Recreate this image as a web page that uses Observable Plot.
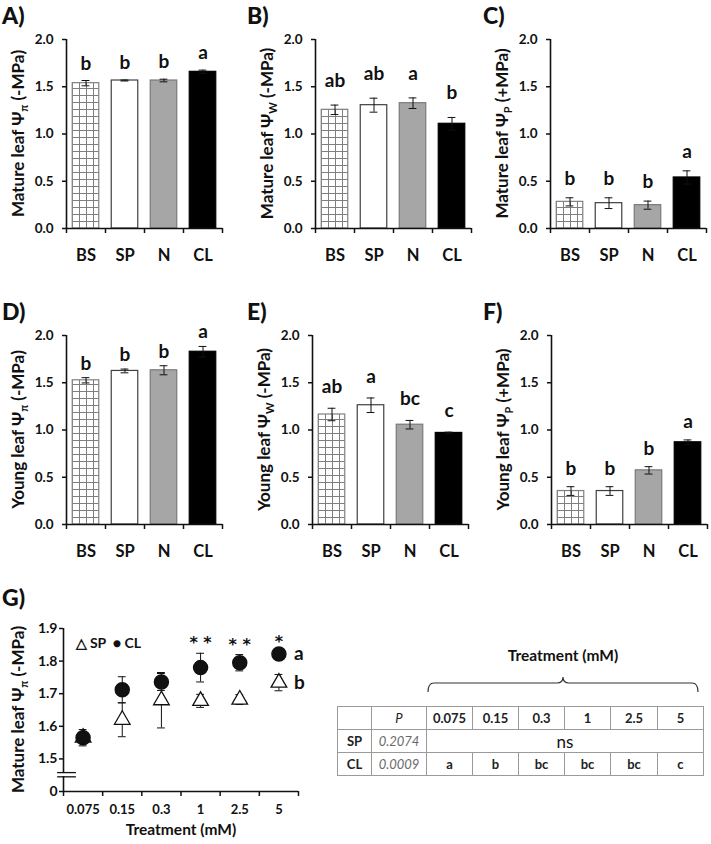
<!DOCTYPE html>
<html><head><meta charset="utf-8">
<script src="https://cdn.jsdelivr.net/npm/d3@7"></script>
<script src="https://cdn.jsdelivr.net/npm/@observablehq/plot@0.6"></script>
<style>
body{margin:0;background:#fff;}
#fig{position:relative;width:711px;height:844px;overflow:hidden;font-family:Lato,"Open Sans",sans-serif;color:#111;background:#fff;}
.plab{position:absolute;font-weight:900;font-size:23px;line-height:1;}
.pn{position:absolute;}
#tbl{position:absolute;left:337px;top:706px;border-collapse:collapse;table-layout:fixed;width:366px;font-size:13px;}
#tbl td{border:1px solid #9a9a9a;height:22px;padding:0;text-align:center;font-weight:bold;color:#222;}
#tbl td.it{font-style:italic;font-weight:normal;color:#6a6a6a;}
#tbl td.ns{font-weight:normal;font-size:17px;color:#111;}
</style></head><body><div id="fig"></div><script>
// ---------- data: panels A–F ----------
const categories = ["BS","SP","N","CL"];
const matureOsmotic = [1.538,1.566,1.566,1.658];
const matureOsmoticSE = [0.028,0.005,0.014,0.018];
const matureOsmoticLetters = ["b","b","b","a"];
const matureWater = [1.256,1.305,1.326,1.108];
const matureWaterSE = [0.05,0.074,0.056,0.067];
const matureWaterLetters = ["ab","ab","a","b"];
const matureTurgor = [0.282,0.268,0.247,0.54];
const matureTurgorSE = [0.043,0.057,0.043,0.07];
const matureTurgorLetters = ["b","b","b","a"];
const youngOsmotic = [1.526,1.625,1.632,1.828];
const youngOsmoticSE = [0.028,0.02,0.048,0.056];
const youngOsmoticLetters = ["b","b","b","a"];
const youngWater = [1.164,1.262,1.056,0.969];
const youngWaterSE = [0.066,0.077,0.045,0.008];
const youngWaterLetters = ["ab","a","bc","c"];
const youngTurgor = [0.354,0.354,0.573,0.87];
const youngTurgorSE = [0.046,0.046,0.039,0.025];
const youngTurgorLetters = ["b","b","b","a"];
const barTicks = [0,0.5,1,1.5,2];

// ---------- data: panel G ----------
const treatments = ["0.075","0.15","0.3","1","2.5","5"];
const spOsmotic = [1.565,1.62,1.68,1.678,1.682,1.734];
const spOsmoticSE = [0.01,0.052,0.085,0.02,0.015,0.025];
const clOsmotic = [1.565,1.712,1.736,1.78,1.795,1.822];
const clOsmoticSE = [0.025,0.04,0.026,0.044,0.025,0.005];
const significance = ["","","","**","**","*"];
const seriesNames = ["SP","CL"];
const seriesLetters = ["b","a"];
const gTicks = [1.4,1.5,1.6,1.7,1.8,1.9];
const gTickLabels = ["0","1.5","1.6","1.7","1.8","1.9"];

// ---------- data: table ----------
const tableHeader = ["", "P", ...treatments];
const tableSP = ["SP","0.2074","ns"];
const tableCL = ["CL","0.0009","a","b","bc","bc","bc","c"];

const fig = d3.select("#fig");
const ink = "#111";

function yLabel(svg, yc, text, sub, unit) {
  const t = svg.append("text")
    .attr("transform", `translate(24,${yc}) rotate(-90)`)
    .attr("text-anchor", "middle")
    .attr("fill", ink)
    .style("font-size", "17px").style("font-weight", "bold");
  t.append("tspan").text(text + " Ψ");
  t.append("tspan").attr("dy", 4).style("font-size", "11px").text(sub);
  t.append("tspan").attr("dy", -4).text(" " + unit);
}

function barPanel(o) {
  const data = categories.map((c, i) => ({c, i, v: o.values[i], e: o.se[i], l: o.letters[i]}));
  const pid = "grid-" + o.id;
  const fills = [`url(#${pid})`, "white", "#a6a6a6", "black"];
  const strokes = ["#808080", "#404040", "#7a7a7a", "black"];
  const p = Plot.plot({
    width: o.width, height: 265, marginLeft: 66, marginRight: o.width - 66 - 156, marginTop: 39, marginBottom: 37,
    x: {domain: [0, 4]}, y: {domain: [0, 2]}, color: {type: "identity"},
    style: {fontFamily: "Lato, 'Open Sans', sans-serif", fontWeight: "bold", fontSize: "13px", color: ink, background: "transparent", overflow: "visible"},
    marks: [
      Plot.rect(data, {x1: d => d.i + 0.16, x2: d => d.i + 0.84, y1: 0, y2: "v", fill: d => fills[d.i], stroke: d => strokes[d.i], strokeWidth: 1.2}),
      Plot.ruleX(data, {x: d => d.i + 0.5, y1: d => d.v - d.e, y2: d => d.v + d.e, stroke: ink, strokeWidth: 1}),
      Plot.ruleY(data, {x1: d => d.i + 0.4, x2: d => d.i + 0.6, y: d => d.v + d.e, stroke: ink, strokeWidth: 1}),
      Plot.ruleY(data, {x1: d => d.i + 0.4, x2: d => d.i + 0.6, y: d => d.v - d.e, stroke: ink, strokeWidth: 1}),
      Plot.text(data, {x: d => d.i + 0.5, y: d => d.v + d.e, text: "l", dy: -o.gap, lineAnchor: "bottom", fontSize: 19, fontWeight: "bold", fill: ink}),
      Plot.ruleY([0], {stroke: ink, strokeWidth: 1.6}),
      Plot.ruleX([0], {y1: 0, y2: 2, stroke: ink, strokeWidth: 1.6}),
      Plot.axisY({ticks: barTicks, tickFormat: d3.format(".1f"), tickSize: 4, tickPadding: 9, label: null, strokeWidth: 1.5, fontSize: 13.5}),
      Plot.axisX({ticks: categories.map((_, i) => i + 0.5), tickFormat: v => categories[Math.round(v - 0.5)], tickSize: 0, tickPadding: 21, fontSize: 16.5, label: null}),
      Plot.axisX({ticks: d3.range(categories.length + 1), tickFormat: () => "", tickSize: 5, label: null, strokeWidth: 1.5})
    ]
  });
  const svg = d3.select(p);
  const x0 = Math.round(p.scale("x").apply(0.16)), y0 = Math.round(p.scale("y").apply(0));
  svg.insert("defs", ":first-child").html(
    `<pattern id="${pid}" patternUnits="userSpaceOnUse" x="${x0}" y="${y0}" width="7" height="7">` +
    `<rect width="7" height="7" fill="white"/>` +
    `<path d="M0 0.5H7M0.5 0V7" stroke="#7f7f7f" stroke-width="1" fill="none" shape-rendering="crispEdges"/></pattern>`);
  yLabel(svg, p.scale("y").apply(1), o.text, o.sub, o.unit);
  const holder = fig.append("div").attr("class", "pn").style("left", o.left + "px").style("top", o.top + "px");
  holder.node().appendChild(p);
  fig.append("div").attr("class", "plab").style("left", o.labelLeft + "px").style("top", (o.top + 4) + "px").text(o.id + ")");
}

barPanel({id: "A", left: 0, labelLeft: 2, top: 0, width: 228, values: matureOsmotic, se: matureOsmoticSE, letters: matureOsmoticLetters, gap: 11, text: "Mature leaf", sub: "π", unit: "(-MPa)"});
barPanel({id: "B", left: 249, labelLeft: 247, top: 0, width: 228, values: matureWater, se: matureWaterSE, letters: matureWaterLetters, gap: 18, text: "Mature leaf", sub: "W", unit: "(-MPa)"});
barPanel({id: "C", left: 484, labelLeft: 483, top: 0, width: 226, values: matureTurgor, se: matureTurgorSE, letters: matureTurgorLetters, gap: 13, text: "Mature leaf", sub: "P", unit: "(+MPa)"});
barPanel({id: "D", left: 0, labelLeft: 2, top: 296, width: 228, values: youngOsmotic, se: youngOsmoticSE, letters: youngOsmoticLetters, gap: 8, text: "Young leaf", sub: "π", unit: "(-MPa)"});
barPanel({id: "E", left: 246, labelLeft: 247, top: 296, width: 228, values: youngWater, se: youngWaterSE, letters: youngWaterLetters, gap: 15, text: "Young leaf", sub: "W", unit: "(-MPa)"});
barPanel({id: "F", left: 485, labelLeft: 483, top: 296, width: 226, values: youngTurgor, se: youngTurgorSE, letters: youngTurgorLetters, gap: 12, text: "Young leaf", sub: "P", unit: "(+MPa)"});

// ---------- panel G ----------
const gData = treatments.map((t, i) => ({i, t, sp: spOsmotic[i], spe: spOsmoticSE[i], cl: clOsmotic[i], cle: clOsmoticSE[i], s: significance[i]}));
const last = treatments.length - 1;
const gx = d => d.i + 0.5;
const g = Plot.plot({
  width: 330, height: 244, marginLeft: 63, marginRight: 32, marginTop: 28, marginBottom: 53,
  x: {domain: [0, treatments.length]}, y: {domain: [1.4, 1.9]},
  style: {fontFamily: "Lato, 'Open Sans', sans-serif", fontWeight: "bold", fontSize: "13px", color: ink, background: "transparent", overflow: "visible"},
  marks: [
    Plot.ruleX(gData, {x: gx, y1: d => d.sp - d.spe, y2: d => d.sp + d.spe, stroke: ink}),
    Plot.ruleY(gData, {x1: d => d.i + 0.4, x2: d => d.i + 0.6, y: d => d.sp + d.spe, stroke: ink}),
    Plot.ruleY(gData, {x1: d => d.i + 0.4, x2: d => d.i + 0.6, y: d => d.sp - d.spe, stroke: ink}),
    Plot.dot(gData, {x: gx, y: "sp", symbol: "triangle", r: 5.8, fill: "white", stroke: ink, strokeWidth: 1.3}),
    Plot.ruleX(gData, {x: gx, y1: d => d.cl - d.cle, y2: d => d.cl + d.cle, stroke: ink}),
    Plot.ruleY(gData, {x1: d => d.i + 0.4, x2: d => d.i + 0.6, y: d => d.cl + d.cle, stroke: ink}),
    Plot.ruleY(gData, {x1: d => d.i + 0.4, x2: d => d.i + 0.6, y: d => d.cl - d.cle, stroke: ink}),
    Plot.dot(gData, {x: gx, y: "cl", r: 7, fill: ink, stroke: ink}),
    Plot.text(gData, {x: gx, y: d => d.cl + d.cle, text: d => d.s.split("").join(" "), dy: -5, lineAnchor: "bottom", fontSize: 16, fontWeight: "bold", fill: ink, fontFamily: "'DejaVu Sans', sans-serif"}),
    Plot.text([{v: clOsmotic[last], l: seriesLetters[1]}, {v: spOsmotic[last], l: seriesLetters[0]}],
      {x: last + 0.5, y: "v", text: "l", dx: 15, textAnchor: "start", lineAnchor: "middle", fontSize: 19, fontWeight: "bold", fill: ink}),
    Plot.text([`△ ${seriesNames[0]}  ● ${seriesNames[1]}`], {frameAnchor: "top-left", dx: 12, dy: 10, lineAnchor: "top", textAnchor: "start", fontSize: 14, fontWeight: "bold", fill: ink}),
    Plot.ruleY([1.4], {stroke: ink, strokeWidth: 1.6}),
    Plot.ruleX([0], {y1: 1.4, y2: 1.9, stroke: ink, strokeWidth: 1.6}),
    Plot.ruleX([0], {y1: 1.446, y2: 1.457, stroke: "white", strokeWidth: 5}),
    Plot.ruleY([1.445, 1.458], {x1: -0.15, x2: 0.33, stroke: ink, strokeWidth: 1.3}),
    Plot.axisY({ticks: gTicks, tickFormat: d => gTickLabels[gTicks.indexOf(d)], tickSize: 4, tickPadding: 2, fontSize: 14, label: null, strokeWidth: 1.5}),
    Plot.axisX({ticks: treatments.map((_, i) => i + 0.5), tickFormat: v => treatments[Math.round(v - 0.5)], tickSize: 0, tickPadding: 13, fontSize: 13, label: null}),
    Plot.axisX({ticks: d3.range(treatments.length + 1), tickFormat: () => "", tickSize: 5, label: null, strokeWidth: 1.5}),
    Plot.text(["Treatment (mM)"], {frameAnchor: "bottom", dy: 39, lineAnchor: "middle", fontSize: 15.5, fontWeight: "bold", fill: ink})
  ]
});
yLabel(d3.select(g), g.scale("y").apply(1.65), "Mature leaf", "π", "(-MPa)");
fig.append("div").attr("class", "pn").style("left", "0px").style("top", "600px").node().appendChild(g);
fig.append("div").attr("class", "plab").style("left", "2px").style("top", "586px").text("G)");

// ---------- table ----------
fig.append("div").style("position", "absolute").style("left", "498px").style("top", "646px").style("width", "130px")
  .style("text-align", "center").style("font-weight", "bold").style("font-size", "15.5px").text("Treatment (mM)");
fig.append("div").style("position", "absolute").style("left", "426px").style("top", "674px").html(
  `<svg width="276" height="22"><path d="M2,18 Q2,9 8,9 H131 Q137,9 137,3 Q137,9 143,9 H266 Q272,9 272,18" fill="none" stroke="#333" stroke-width="1.2"/></svg>`);
const tbl = fig.append("table").attr("id", "tbl");
const cg = tbl.append("colgroup");
[34, 55, 46, 46, 46, 46, 47, 46].forEach(w => cg.append("col").style("width", w + "px"));
const r1 = tbl.append("tr");
tableHeader.forEach((h, i) => r1.append("td").attr("class", i === 1 ? "it" : null).style("color", i === 1 ? "#222" : null).text(h));
const r2 = tbl.append("tr");
r2.append("td").text(tableSP[0]);
r2.append("td").attr("class", "it").text(tableSP[1]);
r2.append("td").attr("class", "ns").attr("colspan", treatments.length).text(tableSP[2]);
const r3 = tbl.append("tr");
tableCL.forEach((h, i) => r3.append("td").attr("class", i === 1 ? "it" : null).text(h));
</script></body></html>
